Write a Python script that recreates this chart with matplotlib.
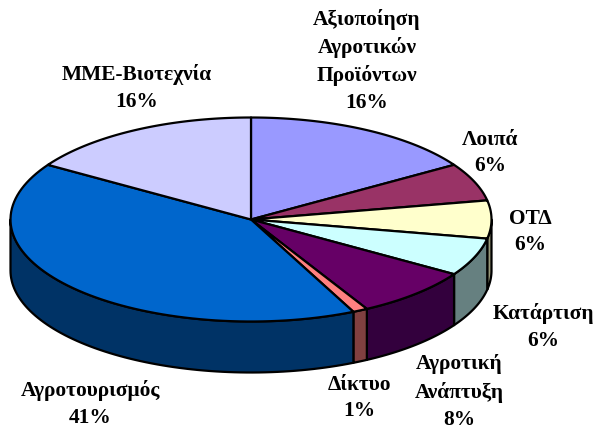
import numpy as np
import matplotlib
matplotlib.use("Agg")
import matplotlib.pyplot as plt
from matplotlib.patches import Polygon

plt.rcParams['font.family'] = ['Liberation Serif', 'DejaVu Serif']

labels = ['Αξιοποίηση\nΑγροτικών\nΠροϊόντων\n16%', 'Λοιπά\n6%', 'ΟΤΔ\n6%', 'Κατάρτιση\n6%',
          'Αγροτική\nΑνάπτυξη\n8%', 'Δίκτυο\n1%', 'Αγροτουρισμός\n41%', 'ΜΜΕ-Βιοτεχνία\n16%']
values = [16, 6, 6, 6, 8, 1, 41, 16]
top_colors = ['#9999FF', '#993366', '#FFFFCC', '#CCFFFF', '#660066', '#FF8080', '#0066CC', '#CCCCFF']
side_colors = ['#5C5C99', '#5C1F3D', '#99997A', '#668080', '#33003D', '#804040', '#003366', '#7A7A99']
label_x = [367, 490, 530, 543, 459, 359, 90, 137]
label_y = [61, 153, 232, 327, 392, 398, 404, 88]

W, H = 595, 429
CX, CY, RX, RY, DEPTH = 251, 219.5, 240.5, 102, 51

fig = plt.figure(figsize=(W / 100, H / 100), dpi=100)
ax = fig.add_axes([0, 0, 1, 1])
ax.set_xlim(0, W)
ax.set_ylim(H, 0)
ax.axis('off')


def rim(a0, a1, n=80):
    t = np.radians(np.linspace(a0, a1, n))
    return CX + RX * np.sin(t), CY - RY * np.cos(t)


edges = np.concatenate([[0], np.cumsum(values)]) / sum(values) * 360

# side walls: only the front half of the rim (90..270 degrees) is visible
for i in range(len(values)):
    a0, a1 = max(edges[i], 90), min(edges[i + 1], 270)
    if a1 <= a0:
        continue
    x, y = rim(a0, a1)
    pts = np.r_[np.c_[x, y], np.c_[x[::-1], y[::-1] + DEPTH]]
    ax.add_patch(Polygon(pts, closed=True, fc=side_colors[i], ec='black', lw=1.6, joinstyle='round', zorder=2))

# top faces
for i in range(len(values)):
    x, y = rim(edges[i], edges[i + 1])
    pts = np.r_[[[CX, CY]], np.c_[x, y]]
    ax.add_patch(Polygon(pts, closed=True, fc=top_colors[i], ec='black', lw=1.6, joinstyle='round', zorder=3))

for s, x, y in zip(labels, label_x, label_y):
    ax.text(x, y, s, ha='center', va='center', fontsize=15.4, fontweight='bold',
            color='black', linespacing=1.46, clip_on=False)

fig.savefig('out.png', dpi=100, facecolor='white')
